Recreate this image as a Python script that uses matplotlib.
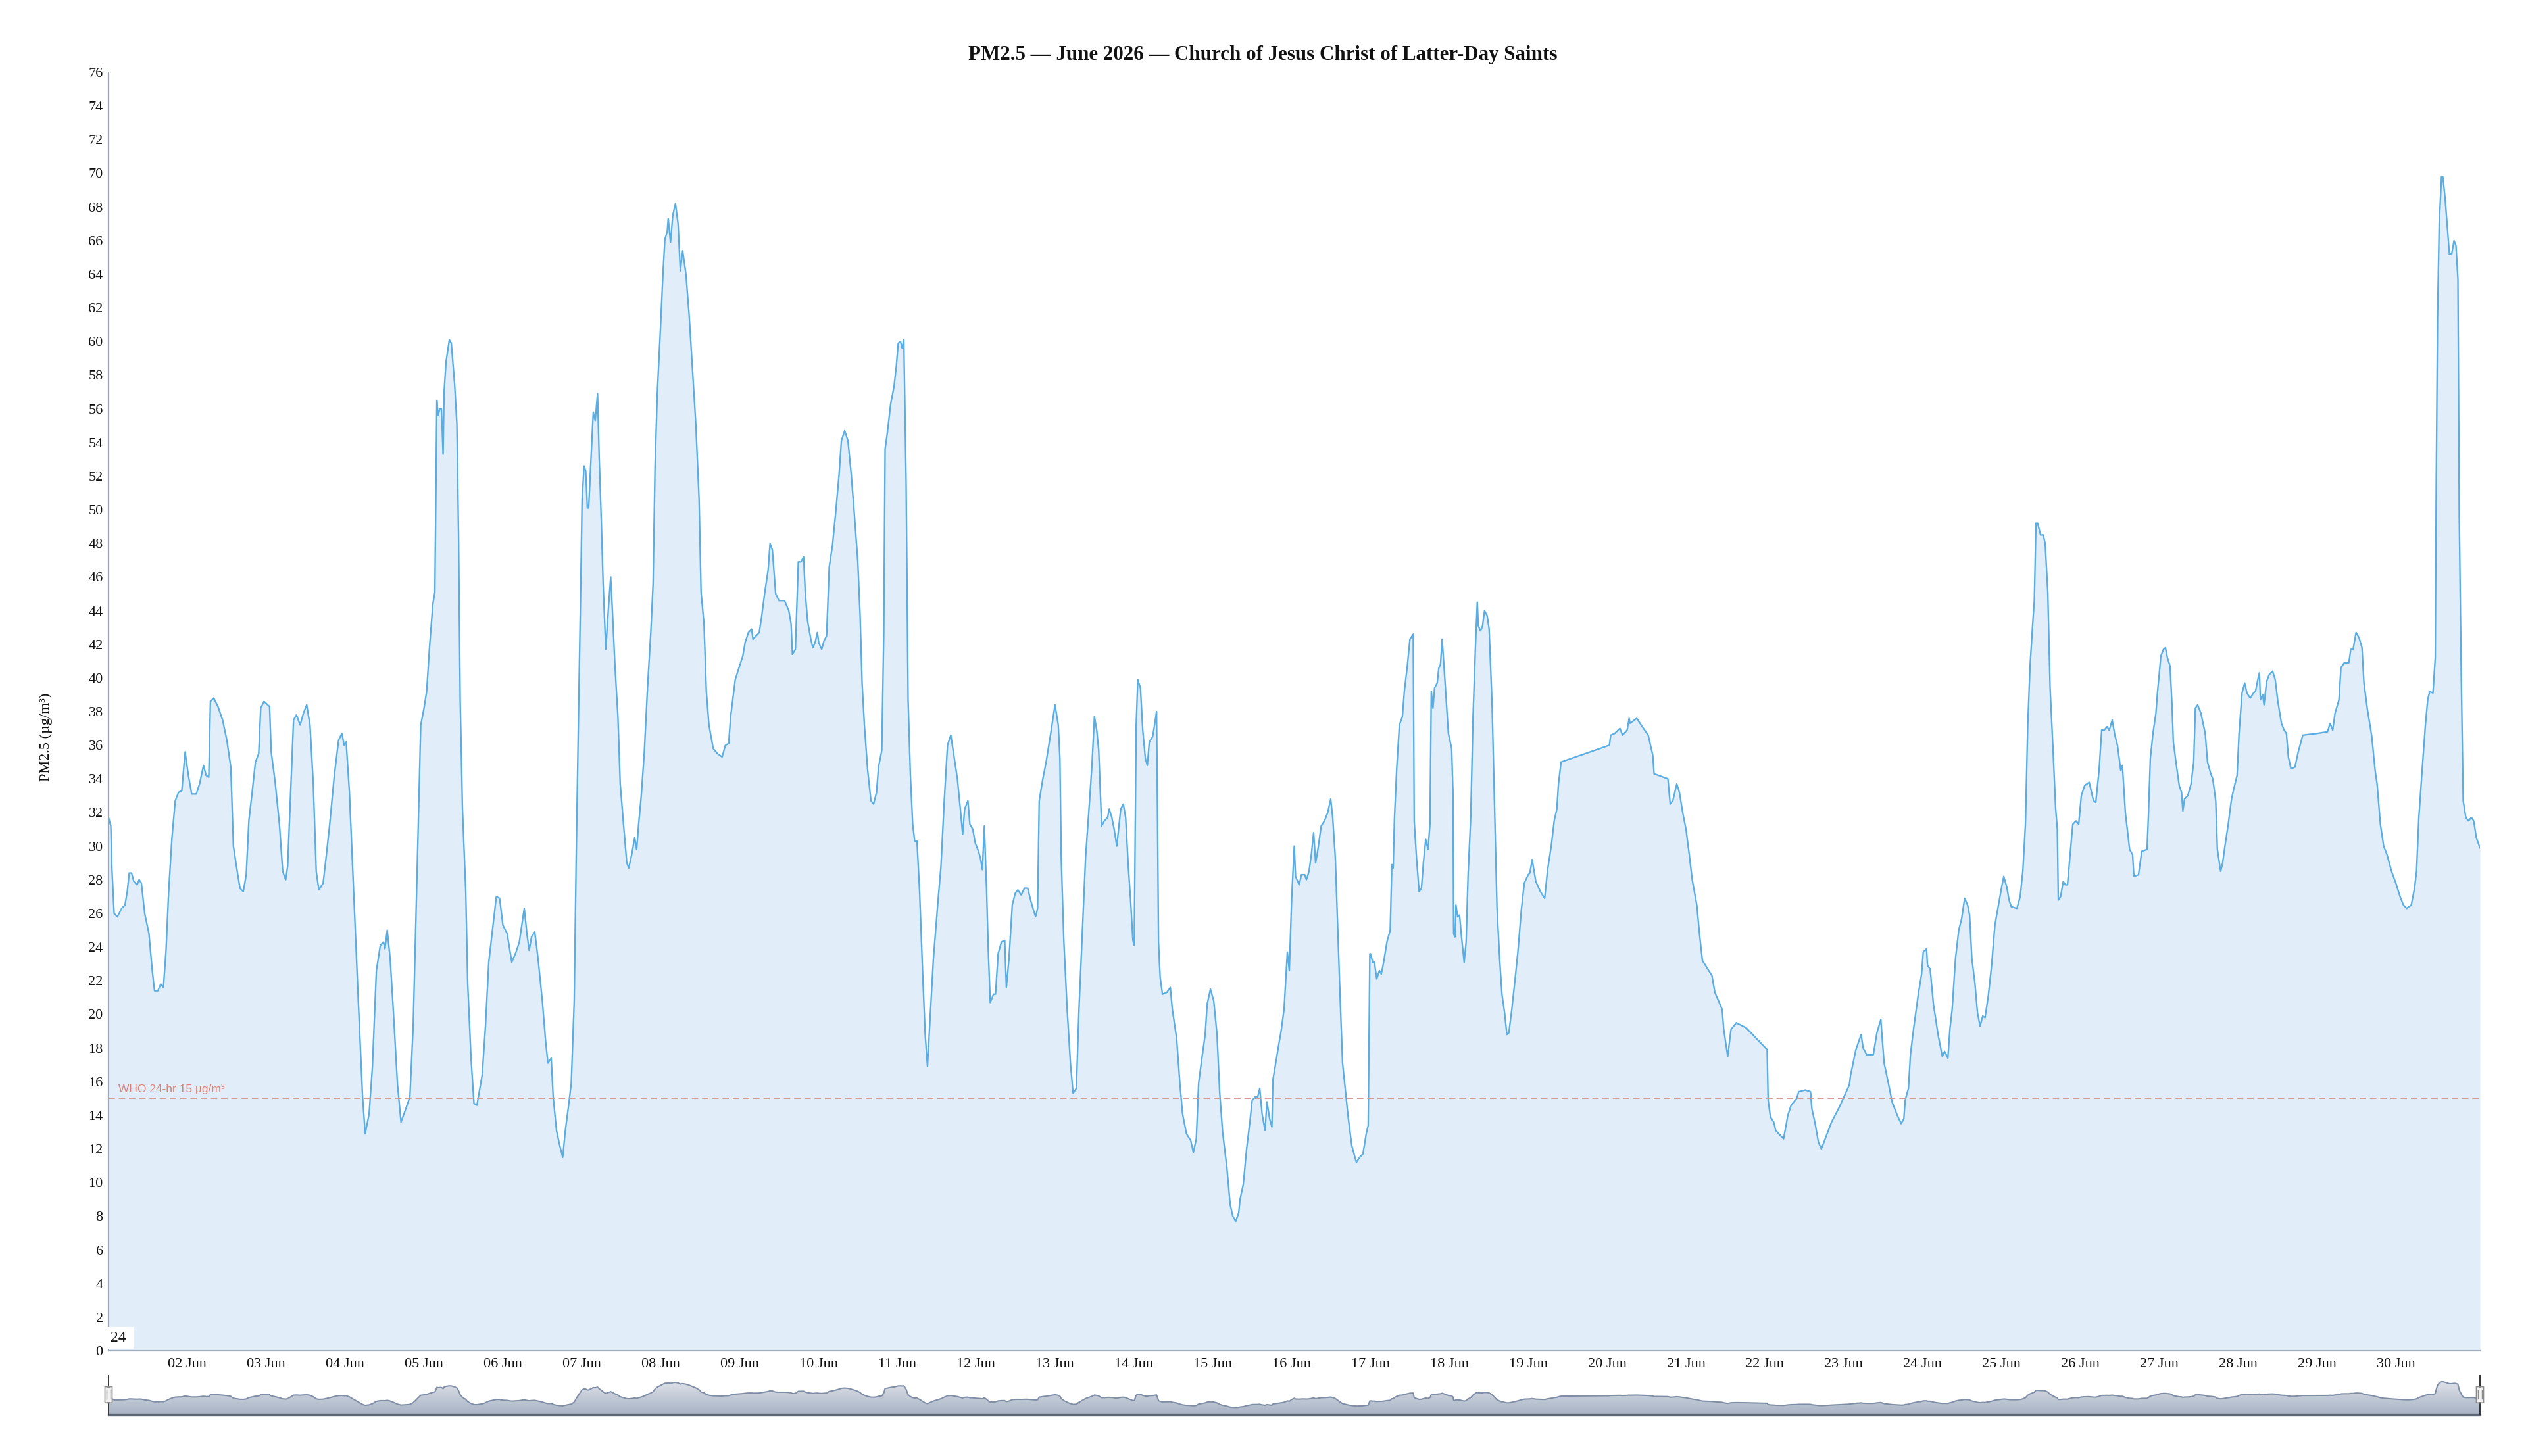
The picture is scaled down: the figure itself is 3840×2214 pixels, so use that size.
import numpy as np
import pandas as pd
import matplotlib
matplotlib.use("Agg")
import matplotlib.pyplot as plt
import matplotlib.dates as mdates

# ---------------- data ----------------
# hours after 2026-06-01 00:00 and PM2.5 readings (µg/m³)
hours = [
 0.0,0.7,1.0,1.7,2.7,4.0,5.0,5.7,6.3,7.0,7.7,8.7,9.3,10.0,11.0,12.3,13.3,14.0,15.0,15.9,16.7,17.5,18.3,19.3,20.3,21.3,22.3,23.3,
 24.3,25.3,26.7,27.7,28.9,29.7,30.5,31.0,32.0,33.3,34.7,36.0,37.2,38.0,39.0,40.0,41.0,41.9,42.7,43.7,44.7,45.7,46.3,47.3,
 49.0,49.5,50.7,52.0,53.0,53.9,54.5,55.3,56.3,57.2,58.3,59.3,60.3,61.3,62.3,63.2,64.0,65.3,66.3,67.3,68.7,70.0,71.0,71.7,
 72.3,73.3,74.7,76.0,77.3,78.1,79.3,80.3,81.5,82.7,83.7,84.1,84.8,85.7,86.7,87.9,89.0,90.3,91.7,92.7,94.0,95.0,
 96.0,96.8,97.7,98.7,99.3,99.9,100.3,100.8,101.3,101.8,102.1,102.7,103.7,104.3,105.3,106.0,106.5,107.0,107.7,108.7,109.3,
 110.3,111.2,112.1,113.0,113.7,114.7,115.7,116.7,118.0,119.0,120.0,121.3,122.7,124.0,125.0,126.5,127.3,128.0,128.7,129.7,
 130.7,132.0,133.0,133.7,134.7,135.3,136.3,137.3,138.2,139.0,140.0,140.8,141.7,142.3,143.0,143.7,144.1,144.7,145.2,145.7,
 146.1,146.7,147.5,148.1,148.8,149.3,149.9,150.5,151.3,152.1,152.8,153.3,154.1,155.0,155.7,156.7,157.7,158.3,159.2,160.1,
 160.7,161.3,162.1,163.0,164.0,165.0,165.7,166.3,167.0,168.0,168.7,169.3,170.0,170.3,171.0,171.7,172.5,173.3,174.0,174.7,
 175.7,176.7,177.7,178.7,179.7,180.3,181.2,181.9,182.7,184.0,185.3,186.7,187.7,188.7,189.3,190.7,
 192.0,193.0,193.7,194.7,195.7,196.1,198.0,198.7,199.7,200.7,201.3,202.0,203.0,204.0,205.7,207.0,207.7,208.1,209.0,209.9,
 210.7,211.5,212.0,212.7,213.7,214.3,215.0,215.7,216.1,217.0,217.7,218.5,219.3,220.3,221.3,222.3,223.0,224.0,225.0,226.0,
 227.0,228.0,228.7,229.3,230.0,231.0,232.0,232.8,233.7,234.3,235.3,235.9,236.3,237.0,238.0,239.0,239.7,240.3,241.0,241.5,
 242.0,242.7,243.3,244.0,244.7,245.3,246.0,246.8,247.7,248.5,249.2,250.0,251.0,251.7,252.3,253.3,254.3,255.3,256.3,257.3,
 258.3,259.3,259.9,260.5,261.5,262.1,263.0,263.7,264.7,265.3,265.9,266.5,267.2,267.7,268.3,269.3,269.9,270.7,271.7,272.7,
 273.2,274.0,275.0,275.9,276.7,277.7,278.7,279.7,280.7,281.3,282.1,282.7,283.2,284.3,285.3,286.7,
 288.0,289.0,289.5,289.9,290.7,291.7,292.7,293.5,294.5,295.3,296.3,297.3,298.7,299.3,300.0,300.7,301.3,302.2,303.0,304.0,
 304.5,305.3,306.0,306.8,307.3,308.0,308.8,309.5,310.3,311.0,311.7,312.1,312.7,313.2,314.0,314.7,315.5,316.1,316.7,317.7,
 318.3,318.9,319.2,319.5,320.0,320.7,322.0,323.1,323.7,325.0,326.0,326.8,328.0,329.3,330.1,331.0,331.7,332.7,333.7,334.3,
 335.3,336.3,337.3,338.1,339.0,340.3,341.3,342.1,343.0,343.9,344.3,345.3,346.3,347.3,348.0,349.0,349.7,350.3,351.0,351.9,
 352.5,353.3,354.0,354.3,355.0,356.0,356.8,357.7,358.7,359.3,360.0,360.8,361.2,362.3,363.0,364.0,364.5,365.3,366.0,366.7,
 367.3,368.0,369.0,370.0,371.0,371.9,372.5,373.3,374.0,374.7,375.5,376.3,377.2,378.3,379.7,380.7,381.7,382.7,383.3,383.8,
 384.0,384.7,385.2,385.9,386.7,387.3,388.0,389.0,390.0,390.5,390.9,391.3,392.0,392.8,393.7,394.3,395.2,396.0,397.0,397.3,
 398.0,398.8,399.5,400.1,400.8,401.5,402.1,402.5,403.0,403.5,404.3,404.8,405.3,405.8,406.7,407.7,408.7,409.1,409.3,409.7,
 410.0,410.5,411.1,411.7,412.5,413.1,413.7,414.5,415.2,416.0,416.5,416.8,417.5,418.1,418.7,419.5,420.1,421.0,421.7,422.5,
 423.3,424.0,424.8,425.5,426.1,427.0,428.0,428.8,429.9,430.8,432.0,432.5,433.2,434.3,435.7,437.0,437.9,439.0,439.9,440.7,
 441.2,442.0,456.7,457.1,458.3,459.9,460.7,462.1,462.7,463.0,465.0,466.7,468.5,469.9,470.3,474.5,475.2,476.0,477.2,478.0,479.0,
 480.0,481.0,481.9,483.3,484.1,485.0,486.3,487.9,488.8,491.0,491.5,492.7,493.7,495.3,498.3,504.7,505.0,505.7,506.7,507.3,
 509.7,511.0,512.0,513.7,514.3,516.3,517.9,518.3,519.3,520.3,521.2,524.3,526.7,529.7,530.1,531.7,533.3,533.9,535.0,537.0,
 538.1,539.3,539.7,540.3,541.7,542.7,544.3,545.5,546.3,546.7,547.7,548.3,549.3,550.7,551.7,552.2,553.2,553.5,554.3,555.3,
 556.7,558.0,558.7,559.7,560.3,561.0,562.0,563.0,563.9,564.8,565.7,566.3,567.0,567.9,568.7,569.5,570.3,571.0,572.0,573.0,
 574.0,575.0,
 576.0,576.7,577.7,578.3,579.0,580.7,581.7,582.5,583.3,584.0,584.7,585.5,586.0,586.5,587.0,587.9,588.7,589.3,590.1,590.8,
 591.7,592.5,593.0,593.3,594.0,594.8,595.5,596.1,596.8,597.7,598.7,599.5,600.3,601.3,602.7,604.0,604.7,605.7,606.5,607.3,
 608.1,608.8,609.7,610.5,611.3,612.3,612.8,613.7,614.3,615.0,615.9,616.3,617.7,618.7,620.3,620.7,621.3,622.1,623.0,623.5,
 624.0,624.5,625.3,625.9,626.5,627.3,627.9,628.3,629.3,630.1,630.8,631.2,631.7,632.7,633.7,634.5,635.0,635.7,636.7,638.0,
 638.7,639.7,640.3,641.2,641.7,642.7,643.3,644.0,645.0,646.0,646.8,647.7,648.3,649.2,650.0,650.7,651.7,652.7,653.3,654.0,
 654.5,654.8,655.5,655.9,656.7,657.5,658.5,659.3,660.1,661.2,662.0,662.7,663.3,664.1,665.3,666.3,667.7,
 672.0,675.2,676.0,676.8,677.5,678.7,679.3,680.3,681.7,682.3,683.0,683.9,684.8,685.7,686.3,687.3,688.7,689.7,690.3,691.3,
 692.3,693.3,694.7,696.0,697.3,698.3,699.3,700.7,701.7,702.3,703.0,704.0,705.0,705.7,706.3,707.3,708.0,708.3,708.7,709.2,
 709.9,710.3,711.0,712.0,712.3,713.0,713.7,714.3,714.9,715.3,715.9,716.5,717.3,718.1,719.0,719.7,720.5,721.6,
]
pm25 = [
 31.7,31.2,28.8,26.0,25.8,26.3,26.5,27.3,28.4,28.4,27.9,27.7,28.0,27.8,26.0,24.8,22.6,21.4,21.4,21.8,21.6,23.8,27.3,30.5,32.7,33.2,33.3,35.6,
 34.2,33.1,33.1,33.7,34.8,34.2,34.1,38.6,38.8,38.3,37.5,36.3,34.7,30.0,28.7,27.5,27.3,28.3,31.5,33.2,35.0,35.5,38.2,38.6,
 38.3,35.6,33.8,31.3,28.5,28.0,28.8,32.7,37.5,37.8,37.2,37.9,38.4,37.2,33.7,28.5,27.4,27.8,29.5,31.3,34.2,36.3,36.7,36.0,
 36.2,33.2,26.8,20.8,15.1,12.9,14.1,16.9,22.6,24.1,24.3,23.9,25.0,23.3,20.1,15.9,13.6,14.3,15.1,19.3,29.3,37.2,
 38.2,39.2,41.9,44.4,45.1,56.5,55.6,56.0,56.0,53.3,57.0,58.8,60.1,59.9,57.5,55.1,48.6,38.7,32.2,27.3,21.8,
 17.4,14.7,14.6,15.6,16.4,19.3,23.1,24.8,27.0,26.9,25.3,24.8,23.1,23.7,24.3,26.3,24.8,23.8,24.6,24.9,
 23.3,20.8,18.4,17.1,17.4,15.1,13.1,12.2,11.5,13.1,14.6,15.9,20.8,29.3,37.7,45.6,50.6,52.6,52.3,50.1,
 50.1,52.6,55.8,55.3,56.9,53.1,49.6,45.6,41.7,44.1,46.0,44.1,40.7,37.7,33.7,31.3,29.0,28.7,29.5,30.5,
 29.8,31.3,33.0,35.5,39.4,42.7,45.6,52.6,57.0,61.0,64.0,66.1,66.5,67.3,65.9,67.5,68.2,67.0,64.2,65.4,
 64.0,61.5,58.3,55.1,50.6,45.1,43.2,39.2,37.2,35.8,35.5,35.3,36.0,36.1,37.7,39.9,
 40.7,41.3,42.1,42.7,42.9,42.3,42.7,43.6,45.1,46.4,48.0,47.6,45.0,44.6,44.6,44.0,43.2,41.4,41.7,46.9,
 46.9,47.2,45.1,43.4,42.3,41.8,42.1,42.7,42.1,41.7,42.2,42.5,46.6,47.9,49.9,52.1,54.1,54.7,54.1,52.1,
 49.6,46.9,43.7,39.7,37.2,34.5,32.7,32.5,33.2,34.7,35.7,42.7,53.6,54.6,56.3,57.3,58.5,59.9,60.0,59.6,
 60.1,51.6,38.7,34.2,31.3,30.3,30.3,27.3,22.6,18.8,16.9,19.8,23.3,25.0,26.5,28.8,32.7,36.0,36.6,35.3,
 34.0,32.0,30.7,32.2,32.7,31.3,31.0,30.2,29.7,29.3,28.6,31.2,27.3,23.8,20.7,21.2,21.2,23.6,24.3,24.4,
 21.6,23.3,26.5,27.2,27.4,27.1,27.5,27.5,26.7,26.3,25.8,26.3,32.7,34.0,35.0,36.7,
 38.4,37.2,35.2,29.3,24.3,20.3,17.1,15.3,15.6,20.3,24.8,29.3,33.2,35.0,37.7,36.9,35.7,31.2,31.5,31.7,
 32.2,31.7,31.0,30.0,30.9,32.2,32.5,31.7,28.8,26.8,24.4,24.1,37.2,39.9,39.4,36.9,35.2,34.8,36.2,36.5,
 37.2,38.0,31.7,24.3,22.2,21.2,21.3,21.6,20.3,18.6,15.9,14.1,12.9,12.5,11.8,12.6,15.9,17.4,18.8,20.6,
 21.5,20.8,18.8,15.4,13.0,10.9,8.7,8.0,7.7,8.2,9.0,9.9,12.0,13.6,14.9,15.1,15.1,15.6,14.1,13.1,
 14.8,13.8,13.3,16.1,16.9,18.1,19.0,20.3,23.7,22.6,26.8,30.0,28.2,27.7,28.3,28.3,28.0,28.5,29.5,30.8,
 29.0,29.8,31.2,31.5,32.0,32.8,31.7,29.3,25.3,21.3,17.1,15.6,13.9,12.2,11.2,11.5,11.7,12.9,13.4,23.6,
 23.6,23.1,23.1,22.1,22.6,22.4,23.1,24.3,25.0,28.9,28.7,31.7,34.7,37.2,37.7,39.2,40.7,42.3,42.6,31.5,
 29.3,27.3,27.5,29.0,30.4,29.8,31.3,39.2,38.2,39.4,39.7,40.6,40.8,42.3,39.7,36.7,35.8,33.2,24.8,24.6,
 26.5,25.8,25.9,24.6,23.1,24.3,28.3,31.7,37.7,42.2,44.5,43.1,42.8,43.1,44.0,43.7,42.9,38.4,32.7,26.3,
 23.3,21.2,20.1,18.8,18.9,20.3,22.1,23.6,26.2,27.8,28.3,28.4,29.2,27.9,27.3,26.9,28.6,30.0,31.5,32.2,
 33.7,35.0,36.0,36.6,36.7,37.0,36.6,36.9,37.6,37.3,37.6,37.1,36.6,35.4,34.3,34.0,32.5,32.7,33.7,33.2,32.0,
 31.0,29.5,28.0,26.5,24.8,23.2,22.8,22.3,21.3,20.3,19.1,17.5,19.1,19.5,19.2,17.9,14.9,13.9,13.6,13.1,
 12.6,14.0,14.6,15.0,15.4,15.5,15.4,14.4,13.5,12.4,12.0,13.6,14.5,15.8,16.4,17.9,18.8,18.0,17.6,17.6,
 18.9,19.7,18.6,17.1,15.8,14.8,14.0,13.5,13.8,14.9,15.6,17.6,19.2,21.2,22.4,23.7,23.9,22.9,22.7,20.6,
 18.8,17.5,17.8,17.4,19.1,20.3,23.3,25.0,25.7,26.9,26.5,25.9,23.3,21.9,20.1,19.3,19.9,19.8,21.1,22.9,
 25.3,26.4,
 27.5,28.2,27.5,26.8,26.4,26.3,27.0,28.5,31.3,37.2,40.7,43.2,44.6,49.2,49.2,48.5,48.5,48.0,45.1,39.4,
 35.7,32.2,31.0,26.8,27.0,27.9,27.7,27.7,29.3,31.3,31.5,31.3,33.0,33.6,33.8,32.7,32.6,34.5,36.9,36.9,
 37.1,36.9,37.5,36.6,36.0,34.5,34.8,32.0,31.0,29.8,29.5,28.2,28.3,29.7,29.8,31.7,35.2,36.7,37.9,39.2,
 40.2,41.3,41.7,41.8,41.2,40.7,38.4,36.2,34.7,33.6,33.2,32.1,32.8,33.0,33.7,35.0,38.2,38.4,37.9,36.7,
 35.0,34.3,34.0,32.7,29.8,28.5,29.0,30.0,31.3,32.8,33.5,34.2,36.7,39.1,39.7,39.1,38.8,39.1,39.2,39.9,
 40.3,38.7,39.0,38.4,39.8,40.2,40.4,39.9,38.6,37.3,36.9,36.7,35.3,34.6,34.7,35.6,36.6,
 36.7,36.8,37.3,36.9,37.9,38.7,40.6,40.9,40.9,41.7,41.7,42.7,42.4,41.8,39.7,38.2,36.5,34.5,33.7,31.3,
 30.0,29.5,28.5,27.8,27.0,26.5,26.3,26.5,27.5,28.5,31.7,34.5,37.2,38.7,39.2,39.1,41.2,51.6,61.5,67.0,
 69.8,69.8,68.5,66.0,65.2,65.2,66.0,65.7,63.7,49.6,40.2,32.7,31.7,31.5,31.7,31.5,30.5,29.9,
]
title = "PM2.5 \u2014 June 2026 \u2014 Church of Jesus Christ of Latter-Day Saints"
y_label = "PM2.5 (\u00b5g/m\u00b3)"
who_value = 15
who_label = "WHO 24-hr 15 \u00b5g/m\u00b3"
y_ticks = list(range(0, 77, 2))

start = pd.Timestamp("2026-06-01 00:00")
times = start + pd.to_timedelta(np.array(hours), unit="h")
vals = np.array(pm25)

# ---------------- figure ----------------
W, H = 3840, 2214
DPI = 100
fig = plt.figure(figsize=(W / DPI, H / DPI), dpi=DPI, facecolor="white")
serif = ["Liberation Serif", "DejaVu Serif"]
sans = ["Liberation Sans", "DejaVu Sans"]

ax = fig.add_axes([165 / W, 1 - 2054 / H, (3770 - 165) / W, (2054 - 110) / H])
line_c = "#5aade3"
fill_c = "#e1eefa"
ax.fill_between(times, vals, 0, color=fill_c, lw=0, zorder=1)
ax.plot(times, vals, color=line_c, lw=1.7, zorder=3, solid_joinstyle="round")

ax.set_xlim(times[0], times[-1])
ax.set_ylim(0, 76)
ax.set_yticks(y_ticks)
ax.yaxis.set_major_formatter(matplotlib.ticker.FormatStrFormatter("%d"))
ax.xaxis.set_major_locator(mdates.DayLocator(bymonthday=range(2, 31)))
ax.xaxis.set_major_formatter(mdates.DateFormatter("%d %b"))
ax.tick_params(axis="both", length=0, labelsize=16, colors="#111111")
ax.tick_params(axis="y", pad=6)
ax.tick_params(axis="x", pad=8)
for lab in ax.get_xticklabels() + ax.get_yticklabels():
    lab.set_fontfamily(serif)

for s in ("top", "right"):
    ax.spines[s].set_visible(False)
ax.spines["left"].set_color("#9aa4b2")
ax.spines["left"].set_linewidth(1.6)
ax.spines["bottom"].set_color("#a3adba")
ax.spines["bottom"].set_linewidth(1.6)

# WHO guideline
ax.axhline(who_value, color="#d39a93", lw=1.4, dashes=(5, 3), zorder=4)
trans = matplotlib.transforms.blended_transform_factory(ax.transAxes, ax.transData)
ax.text(0.0042, who_value + 0.25, who_label, transform=trans, ha="left", va="bottom",
        fontsize=12.5, color="#d9837a", family=sans, zorder=5)

# small "24" box at bottom-left
ax.text(0.0008, 0.0045, "24 ", transform=ax.transAxes, ha="left", va="bottom",
        fontsize=17, family=serif, color="#111111", zorder=6,
        bbox=dict(boxstyle="square,pad=0.25", fc="white", ec="none"))

ax.set_ylabel(y_label, fontsize=16, family=serif, labelpad=12, color="#111111")
ax.yaxis.set_label_coords(-0.0235, 0.48)
fig.text(0.5, 1 - 84 / H, title, ha="center", va="center", fontsize=22.3,
         fontweight="bold", family=serif, color="#111111")

# ---------------- navigator ----------------
nav = fig.add_axes([165 / W, 1 - 2151 / H, (3770 - 165) / W, (2151 - 2092) / H])
nav.set_xlim(times[0], times[-1])
nav.set_ylim(-9, 84)
poly = nav.fill_between(times, vals, -9, color="none", lw=0)
grad = np.linspace(0, 1, 256).reshape(-1, 1)
cmap = matplotlib.colors.LinearSegmentedColormap.from_list("g", ["#e6e9ef", "#a7b2c3"])
xn = mdates.date2num(times)
im = nav.imshow(grad, cmap=cmap, aspect="auto", origin="upper",
                extent=[xn[0], xn[-1], -9, 84], zorder=1)
im.set_clip_path(poly.get_paths()[0], transform=nav.transData)
nav.plot(times, vals, color="#7f8ea6", lw=1.5, zorder=2)
nav.set_xlim(xn[0], xn[-1])
nav.set_ylim(-9, 84)
nav.set_xticks([]); nav.set_yticks([])
for s in ("top", "right", "left"):
    nav.spines[s].set_visible(False)
nav.spines["bottom"].set_color("#5d6674")
nav.spines["bottom"].set_linewidth(2.4)
nav.patch.set_alpha(0)
# handles
for xf in (0.0, 1.0):
    nav.plot([xf, xf], [0, 1], transform=nav.transAxes, color="#333333", lw=1.4,
             clip_on=False, zorder=5)
    hw = 11 / (3770 - 165)
    rect = matplotlib.patches.FancyBboxPatch((xf - hw / 2, 0.3), hw, 0.42,
                                             boxstyle="round,pad=0,rounding_size=0.002",
                                             transform=nav.transAxes, fc="#f2f2f2",
                                             ec="#8a8a8a", lw=1.2, clip_on=False, zorder=6)
    nav.add_patch(rect)
    for dx in (-0.3, 0.3):
        nav.plot([xf + dx * hw, xf + dx * hw], [0.4, 0.62], transform=nav.transAxes,
                 color="#8a8a8a", lw=1.0, clip_on=False, zorder=7)

fig.savefig("out.png", dpi=DPI, facecolor="white")
